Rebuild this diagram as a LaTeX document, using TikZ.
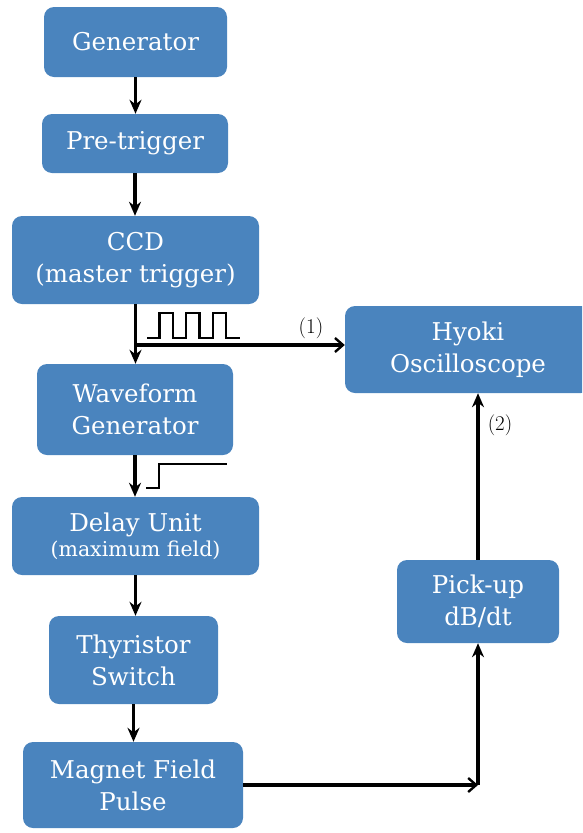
\documentclass[tikz,border=0pt]{standalone}
\usepackage{fontspec}
\setmainfont{DejaVu Serif}
\newfontfamily\lmfont{Latin Modern Roman}
\usetikzlibrary{arrows.meta}
\definecolor{boxblue}{RGB}{74,132,190}
\begin{document}
\begin{tikzpicture}[x=1pt,y=-1pt,
  box/.style={fill=boxblue, rounded corners=10pt, text=white, align=center,
    inner sep=0pt, font=\fontsize{24.5}{32}\selectfont},
  arr/.style={-{Stealth[length=14pt,width=12pt]}, line width=3.2pt},
  barb/.style={-{Straight Barb[length=8pt,width=14pt,line width=2.4pt]}, line width=3.2pt},
  sig/.style={line width=2.2pt},
  lbl/.style={font=\lmfont\fontsize{21}{21}\selectfont, inner sep=0pt}]
\useasboundingbox (0,0) rectangle (582,833);
\clip (0,0) rectangle (582,833);

\node[box, minimum width=183pt, minimum height=70pt] (gen) at (135.5,42) {Generator};
\node[box, minimum width=186pt, minimum height=59pt] (pre) at (135,143.5) {Pre-trigger};
\node[box, minimum width=247pt, minimum height=88pt] (ccd) at (135.5,260) {CCD\\(master trigger)};
\node[box, minimum width=196pt, minimum height=91pt] (wave) at (135,409.5) {Waveform\\Generator};
\node[box, minimum width=247pt, minimum height=78pt] (delay) at (135.5,536) {Delay Unit\\[-7pt]{\fontsize{20.5}{22}\selectfont (maximum field)}};
\node[box, minimum width=169pt, minimum height=88pt] (thy) at (133.5,660) {Thyristor\\Switch};
\node[box, minimum width=220pt, minimum height=86pt] (mag) at (133,785) {Magnet Field\\Pulse};
\node[box, minimum width=246pt, minimum height=87pt] (hyoki) at (468,349.5) {Hyoki\\Oscilloscope};
\node[box, minimum width=162pt, minimum height=83pt] (pick) at (478,601.5) {Pick-up\\dB/dt};

\draw[arr] (gen.south) -- (gen.south |- pre.north);
\draw[arr] (pre.south) -- (pre.south |- ccd.north);
\draw[arr] (ccd.south) -- (ccd.south |- wave.north);
\coordinate (b1) at (135.5,345);
\draw[barb] (b1) -- (b1 -| hyoki.west);
\draw[arr] (wave.south) -- (wave.south |- delay.north);
\draw[arr] (delay.south) -- (delay.south |- thy.north);
\draw[arr] (thy.south) -- (thy.south |- mag.north);
\coordinate (c2) at (mag.east -| pick.south);
\draw[barb] (mag.east) -- (c2);
\draw[arr] (c2) -- (pick.south);
\draw[arr] (pick.north) -- (pick.north |- hyoki.south);

\draw[sig] (147,338) -- (159.5,338) -- (159.5,313) -- (173,313) -- (173,338) -- (186,338)
  -- (186,313) -- (199.5,313) -- (199.5,338) -- (213,338) -- (213,313) -- (226,313)
  -- (226,338) -- (239.5,338);
\draw[sig] (146,488) -- (159,488) -- (159,464) -- (227,464);

\node[lbl] (l1) at (311,328) {(1)};
\node[lbl] (l2) at (500,425) {(2)};
\end{tikzpicture}
\end{document}
